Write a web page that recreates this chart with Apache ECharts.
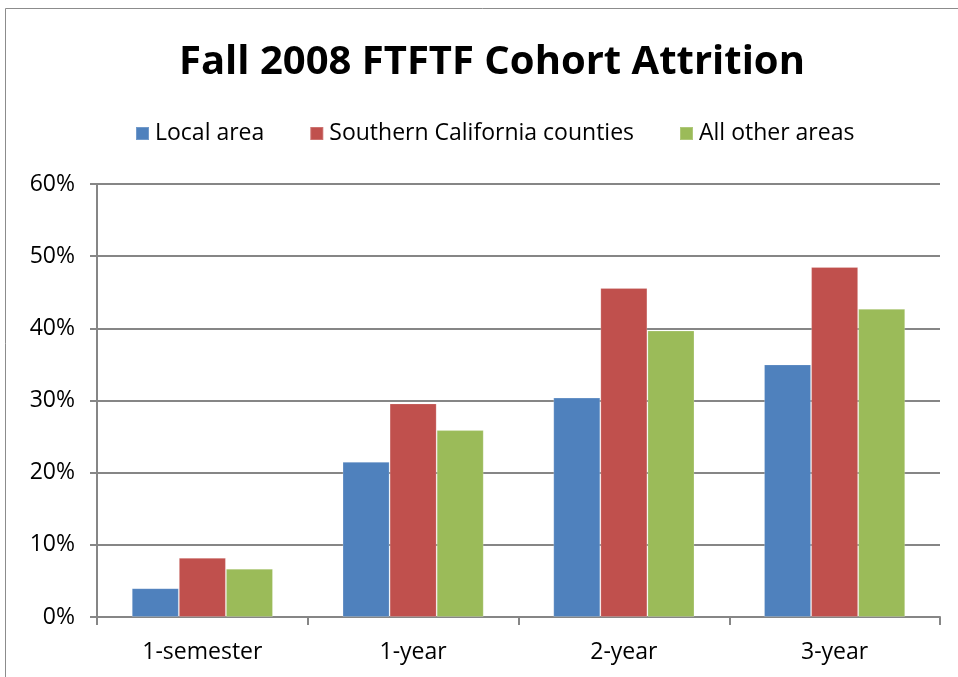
<!DOCTYPE html>
<html>
<head>
<meta charset="utf-8">
<script src="https://cdn.jsdelivr.net/npm/echarts@6/dist/echarts.min.js"></script>
<style>
html,body{margin:0;padding:0;background:#fff;}
#main{width:958px;height:677px;}
</style>
</head>
<body>
<div id="main"></div>
<script>
// chart data
var categories = ['1-semester', '1-year', '2-year', '3-year'];
var localArea = [4.0, 21.5, 30.4, 35.0];
var southernCal = [8.2, 29.6, 45.6, 48.5];
var otherAreas = [6.7, 25.9, 39.7, 42.7];
var yTicks = [0, 10, 20, 30, 40, 50, 60];

var font = '"Open Sans", "DejaVu Sans", sans-serif';
var chart = echarts.init(document.getElementById('main'));

var barSerie = {
	type: 'bar',
	barGap: '0%',
	barCategoryGap: '33%',
	data: []
};
function makeSerie(name, data, color){
	var s = JSON.parse(JSON.stringify(barSerie));
	s.name = name;
	s.data = data;
	s.itemStyle = { color: color, borderColor: 'rgba(255,255,255,0.2)', borderWidth: 1 };
	return s;
}

var opt = {
	backgroundColor: '#fff',
	animation: false,
	graphic: [{
		type: 'rect',
		shape: { x: 5.5, y: 8.5, width: 960, height: 680 },
		style: { fill: 'none', stroke: '#8c8c8c', lineWidth: 1 }
	}],
	title: {
		text: 'Fall 2008 FTFTF Cohort Attrition',
		left: 174,
		top: 38,
		textStyle: { fontFamily: font, fontWeight: 'bold', fontSize: 40, color: '#000' }
	},
	legend: {
		top: 117,
		left: 130,
		itemWidth: 13,
		itemHeight: 13,
		itemGap: 45,
		icon: 'rect',
		textStyle: { fontFamily: font, fontSize: 23, color: '#000', padding: [0, 0, 0, 1] },
		data: ['Local area', 'Southern California counties', 'All other areas']
	},
	grid: { left: 97, right: 18, top: 184, bottom: 60, containLabel: false },
	xAxis: {
		type: 'category',
		data: categories,
		axisLine: { lineStyle: { color: '#868686', width: 2 } },
		axisTick: { show: true, length: 8, lineStyle: { color: '#868686', width: 2 } },
		axisLabel: { fontFamily: font, fontSize: 23, color: '#000', margin: 24 }
	},
	yAxis: {
		type: 'value',
		min: yTicks[0],
		max: yTicks[yTicks.length - 1],
		interval: 10,
		axisLine: { show: true, lineStyle: { color: '#868686', width: 2 } },
		axisTick: { show: true, length: 7, lineStyle: { color: '#868686', width: 2 } },
		splitLine: { lineStyle: { color: '#868686', width: 2 } },
		axisLabel: { formatter: '{value}%', fontFamily: font, fontSize: 23, color: '#000', margin: 22 }
	},
	series: [
		makeSerie('Local area', localArea, '#4f81bd'),
		makeSerie('Southern California counties', southernCal, '#c0504d'),
		makeSerie('All other areas', otherAreas, '#9bbb59')
	]
};
chart.setOption(opt);
</script>
</body>
</html>
